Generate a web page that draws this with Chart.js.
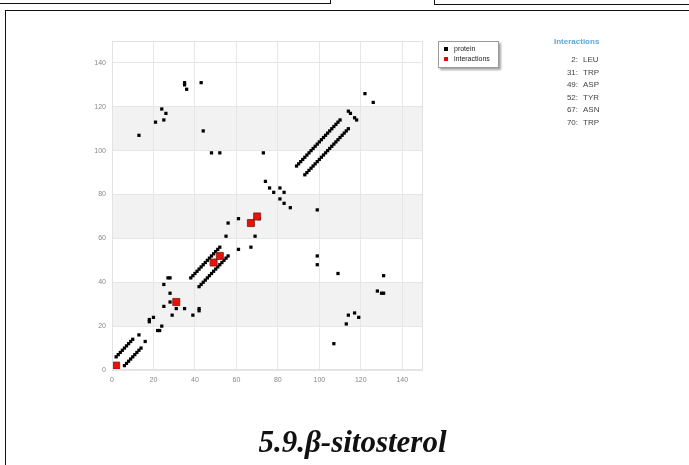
<!DOCTYPE html>
<html>
<head>
<meta charset="utf-8">
<script src="https://cdn.jsdelivr.net/npm/chart.js@4.4.0/dist/chart.umd.min.js"></script>
<style>
  html, body { margin: 0; padding: 0; background: #fff; }
  #page { position: relative; width: 689px; height: 465px; overflow: hidden; font-family: 'Liberation Sans', Arial, sans-serif; }
  #plot { position: absolute; left: 0; top: 0; }
  .box { position: absolute; border: 1.5px solid #111; box-sizing: border-box; }
  #legend { position: absolute; left: 438px; top: 41px; width: 59px; height: 25px; border: 1px solid #999; background: #fff;
            box-shadow: 2px 2px 2px rgba(0,0,0,0.35); font-size: 7px; color: #222; }
  #legend div { position: absolute; left: 15px; line-height: 8px; }
  #legend span { position: absolute; left: -10px; top: 2px; width: 4px; height: 4px; }
  #interTitle { position: absolute; left: 554px; top: 37px; font-size: 8px; color: #5ea6da; font-weight: bold; }
  #interList { position: absolute; left: 540px; top: 54px; font-size: 8px; color: #444; line-height: 12.5px; }
  #interList .n { display: inline-block; width: 38px; text-align: right; }
  #interList .r { padding-left: 5px; }
  #caption { position: absolute; left: 0; width: 705px; top: 424px; text-align: center;
             font-family: 'Liberation Serif', 'Times New Roman', serif; font-weight: bold; font-style: italic; font-size: 31px; color: #111; }
</style>
</head>
<body>
<div id="page">
  <div class="box" style="left:-5px; top:-10px; width:336px; height:14px;"></div>
  <div class="box" style="left:434px; top:-10px; width:270px; height:15px;"></div>
  <div class="box" style="left:5px; top:10px; width:700px; height:470px;"></div>
  <canvas id="plot" width="689" height="465"></canvas>
  <div id="legend">
    <div style="top:3px;"><span style="background:#000;"></span>protein</div>
    <div style="top:13px;"><span style="background:#e00;"></span>interactions</div>
  </div>
  <div id="interTitle">Interactions</div>
  <div id="interList"></div>
  <div id="caption">5.9.β-sitosterol</div>
</div>
<script>
// ── Data ──────────────────────────────────────────────────
const axisTicks = [0, 20, 40, 60, 80, 100, 120, 140];
const bandRanges = [[20, 40], [60, 80], [100, 120]];

const interactionResidues = [2, 31, 49, 52, 67, 70];
const interactionNames = ['LEU', 'TRP', 'ASP', 'TYR', 'ASN', 'TRP'];

// helix contacts (i, i+4) and mirrored
const helixA = [[2,6],[3,7],[4,8],[5,9],[6,10],[7,11],[8,12],[9,13],[10,14],
                [6,2],[7,3],[8,4],[9,5],[10,6],[11,7],[12,8],[13,9],[14,10]];
const helixB = [[38,42],[39,43],[40,44],[41,45],[42,46],[43,47],[44,48],[45,49],[46,50],[47,51],[48,52],[49,53],[50,54],[51,55],[52,56],
                [42,38],[43,39],[44,40],[45,41],[46,42],[47,43],[48,44],[49,45],[50,46],[51,47],[52,48],[53,49],[54,50],[55,51],[56,52]];
const helixC = [[89,93],[90,94],[91,95],[92,96],[93,97],[94,98],[95,99],[96,100],[97,101],[98,102],[99,103],[100,104],[101,105],[102,106],
                [103,107],[104,108],[105,109],[106,110],[107,111],[108,112],[109,113],[110,114],
                [93,89],[94,90],[95,91],[96,92],[97,93],[98,94],[99,95],[100,96],[101,97],[102,98],[103,99],[104,100],[105,101],[106,102],
                [107,103],[108,104],[109,105],[110,106],[111,107],[112,108],[113,109],[114,110]];
const otherContacts = [[13,16],[16,13],[18,22],[18,23],[22,18],[23,18],[20,24],[24,20],[25,29],[29,25],[28,31],[31,28],
                       [28,35],[35,28],[25,39],[39,25],[27,42],[28,42],[42,27],[42,28],
                       [55,61],[61,55],[56,67],[67,56],[61,69],[69,61],[71,69],
                       [74,86],[86,74],[76,83],[83,76],[78,81],[81,78],[81,83],[83,81],
                       [73,99],[99,73],[48,99],[99,48],[52,99],[99,52],[44,109],[109,44],
                       [43,131],[131,43],[35,130],[130,35],[35,131],[131,35],[36,128],[128,36],
                       [13,107],[107,12],[21,113],[113,21],[25,114],[114,25],[24,119],[119,24],[26,117],[117,26],
                       [122,126],[126,122],[114,118],[115,117],[117,115],[118,114]];

const proteinPoints = helixA.concat(helixB, helixC, otherContacts);

// ── Side list ─────────────────────────────────────────────
document.getElementById('interList').innerHTML = interactionResidues
  .map((r, i) => `<div><span class="n">${r}:</span><span class="r">${interactionNames[i]}</span></div>`)
  .join('');

// ── Background bands + frame ──────────────────────────────
const bandPlugin = {
  id: 'bands',
  beforeDraw(chart) {
    const { ctx, chartArea: a, scales: { y } } = chart;
    ctx.save();
    ctx.fillStyle = '#f2f2f2';
    bandRanges.forEach(([lo, hi]) => {
      const top = y.getPixelForValue(hi), bot = y.getPixelForValue(lo);
      ctx.fillRect(a.left, top, a.right - a.left, bot - top);
    });
    ctx.restore();
  },
  afterDatasetsDraw(chart) {
    const { ctx, chartArea: a } = chart;
    ctx.save();
    ctx.strokeStyle = '#e2e2e2';
    ctx.lineWidth = 1;
    ctx.strokeRect(a.left + 0.5, a.top + 0.5, a.right - a.left - 1, a.bottom - a.top - 1);
    ctx.restore();
  }
};

const tickFont = { family: "'Liberation Sans', Arial, sans-serif", size: 7 };

new Chart(document.getElementById('plot'), {
  type: 'scatter',
  data: {
    datasets: [
      {
        label: 'interactions',
        data: interactionResidues.map(r => ({ x: r, y: r })),
        pointStyle: 'rect',
        pointRadius: 5,
        backgroundColor: '#e8120c',
        borderColor: '#7a1a10',
        borderWidth: 0.8,
        order: 0
      },
      {
        label: 'protein',
        data: proteinPoints.map(p => ({ x: p[0], y: p[1] })),
        pointStyle: 'rect',
        pointRadius: 2.3,
        backgroundColor: '#000',
        borderColor: '#000',
        borderWidth: 0,
        order: 1
      }
    ]
  },
  options: {
    responsive: false,
    animation: false,
    layout: { padding: { left: 60, right: 266, top: 41, bottom: 75 } },
    scales: {
      x: {
        min: 0, max: 150,
        afterBuildTicks: (s) => { s.ticks = axisTicks.map(v => ({ value: v })); },
        afterFit: (s) => { s.height = 20; },
        grid: { color: '#e6e6e6', drawTicks: false },
        border: { display: false },
        ticks: { color: '#888', font: tickFont, padding: 6 }
      },
      y: {
        min: 0, max: 150,
        afterBuildTicks: (s) => { s.ticks = axisTicks.map(v => ({ value: v })); },
        afterFit: (s) => { s.width = 52; },
        grid: { color: '#e6e6e6', drawTicks: false },
        border: { display: false },
        ticks: { color: '#888', font: tickFont, padding: 6 }
      }
    },
    plugins: {
      legend: { display: false },
      tooltip: { enabled: false }
    }
  },
  plugins: [bandPlugin]
});
</script>
</body>
</html>
